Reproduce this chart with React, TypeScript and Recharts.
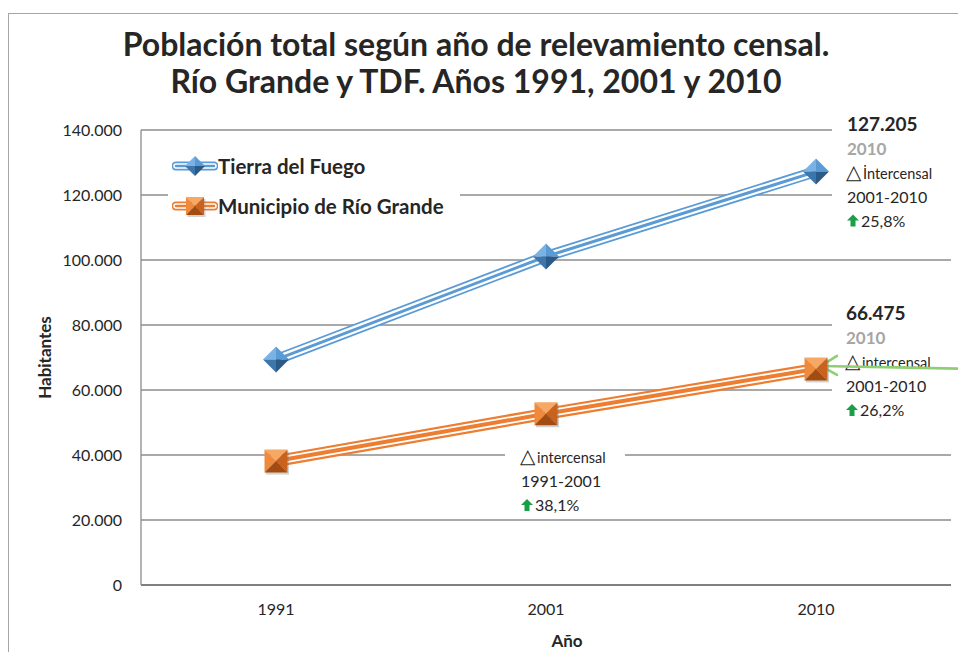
import { LineChart, Line, XAxis, YAxis, CartesianGrid, Legend, ReferenceDot, Label } from 'recharts'

// censos 1991, 2001, 2010
const years = ['1991', '2001', '2010']
const tierraDelFuego = [69369, 101079, 127205]
const rioGrande = [38136, 52681, 66475]
const yTicks = [0, 20000, 40000, 60000, 80000, 100000, 120000, 140000]

const seriesNames = ['Tierra del Fuego', 'Municipio de Río Grande']
const periodLabels = ['1991-2001', '2001-2010']
const changeTdf = '25,8%'
const changeRg2010 = '26,2%'
const changeRg2001 = '38,1%'

const BLUE = '#5b9bd5'
const ORANGE = '#ed7d31'
const GRID = '#8c8c8c'
const TEXT = '#262626'
const FONT = 'Lato, "Open Sans", sans-serif'

const data = years.map((year, i) => ({ year, tdf: tierraDelFuego[i], rg: rioGrande[i] }))

const fmt = (v: number) => String(v).replace(/\B(?=(\d{3})+(?!\d))/g, '.')

function Diamond({ cx, cy, r = 13 }: any) {
    return (
        <g>
            <polygon points={`${cx},${cy - r} ${cx},${cy} ${cx - r},${cy}`} fill="#7ab2e6" />
            <polygon points={`${cx},${cy - r} ${cx + r},${cy} ${cx},${cy}`} fill="#5a9ad5" />
            <polygon points={`${cx + r},${cy} ${cx},${cy + r} ${cx},${cy}`} fill="#2c5a86" />
            <polygon points={`${cx - r},${cy} ${cx},${cy + r} ${cx},${cy}`} fill="#3d76ab" />
        </g>
    )
}

function Pyramid({ cx, cy, r = 11.5 }: any) {
    const l = cx - r, rt = cx + r, t = cy - r, b = cy + r
    return (
        <g>
            <rect x={l + 1.5} y={t + 2} width={r * 2} height={r * 2} fill="#7f7f7f" opacity={0.35} />
            <polygon points={`${l},${t} ${rt},${t} ${cx},${cy}`} fill="#f7a864" />
            <polygon points={`${l},${t} ${cx},${cy} ${l},${b}`} fill="#ef8a3c" />
            <polygon points={`${rt},${t} ${rt},${b} ${cx},${cy}`} fill="#c9621d" />
            <polygon points={`${l},${b} ${cx},${cy} ${rt},${b}`} fill="#a24c12" />
        </g>
    )
}

function UpArrow({ x, y }: any) {
    // small green arrow, (x, y) = bottom-left
    return (
        <polygon
            points={`${x + 3.5},${y} ${x + 3.5},${y - 6} ${x},${y - 6} ${x + 6},${y - 12} ${x + 12},${y - 6} ${x + 8.5},${y - 6} ${x + 8.5},${y}`}
            fill="#1a9e48"
        />
    )
}

function Note({ x, y, lines }: any) {
    // lines: { kind, text }
    return (
        <g fontFamily={FONT}>
            {lines.map((ln: any, i: number) => {
                const ly = y + i * 24
                if (ln.kind === 'total')
                    return <text key={i} x={x} y={ly} fontSize={19} fontWeight={700} fill={TEXT}>{ln.text}</text>
                if (ln.kind === 'year')
                    return <text key={i} x={x} y={ly} fontSize={17} fontWeight={700} fill="#a6a6a6">{ln.text}</text>
                if (ln.kind === 'delta')
                    return (
                        <g key={i}>
                            <text x={x - 1} y={ly} fontSize={20} fill={TEXT} fontFamily="DejaVu Sans">△</text>
                            <text x={x + 16} y={ly} fontSize={14.5} fill={TEXT}>{ln.text}</text>
                        </g>
                    )
                if (ln.kind === 'pct')
                    return (
                        <g key={i}>
                            <UpArrow x={x} y={ly} />
                            <text x={x + 14} y={ly} fontSize={16} fill={TEXT}>{ln.text}</text>
                        </g>
                    )
                return <text key={i} x={x} y={ly} fontSize={16} fill={TEXT}>{ln.text}</text>
            })}
        </g>
    )
}

function LegendIcon({ color, marker }: any) {
    return (
        <svg width={46} height={24} style={{ display: 'block' }}>
            <line x1={4} y1={12} x2={42} y2={12} stroke={color} strokeWidth={9} strokeLinecap="round" />
            <line x1={4} y1={12} x2={42} y2={12} stroke="#fff" strokeWidth={5.5} strokeLinecap="round" />
            <line x1={4} y1={12} x2={42} y2={12} stroke={color} strokeWidth={2.5} strokeLinecap="round" />
            {marker === 'diamond' ? <Diamond cx={23} cy={12} r={10} /> : <Pyramid cx={23} cy={12} r={9} />}
        </svg>
    )
}

function LegendBox() {
    const items = [
        { name: seriesNames[0], color: BLUE, marker: 'diamond' },
        { name: seriesNames[1], color: ORANGE, marker: 'square' },
    ]
    return (
        <div style={{ background: '#fff', padding: '6px 6px 6px 4px', width: 282 }}>
            {items.map((it) => (
                <div key={it.name} style={{ display: 'flex', alignItems: 'center', height: 40 }}>
                    <LegendIcon color={it.color} marker={it.marker} />
                    <span style={{ fontFamily: FONT, fontWeight: 700, fontSize: 20.5, color: TEXT, marginLeft: 0 }}>{it.name}</span>
                </div>
            ))}
        </div>
    )
}

export default function App() {
    return (
        <div style={{ position: 'absolute', left: 0, top: 0, width: 958, height: 652, overflow: 'hidden', background: '#fff' }}>
            <style>{`body{margin:0}`}</style>
            <div style={{ position: 'absolute', left: 8, top: 13, width: 1000, height: 700, border: '1px solid #a6a6a6' }} />
            <div
                style={{
                    position: 'absolute', left: 0, top: 25, width: 952, textAlign: 'center',
                    fontFamily: FONT, fontWeight: 700, fontSize: 32, lineHeight: '37px', color: TEXT,
                }}
            >
                Población total según año de relevamiento censal.
                <br />
                Río Grande y TDF. Años 1991, 2001 y 2010
            </div>
            <div style={{ position: 'absolute', left: 0, top: 0 }}>
                <LineChart width={958} height={652} data={data} margin={{ top: 130, right: 7, bottom: 37, left: 41 }}>
                    <CartesianGrid vertical={false} stroke={GRID} strokeWidth={1.3} />
                    <XAxis
                        dataKey="year"
                        height={30}
                        padding={{ left: 135, right: 135 }}
                        axisLine={{ stroke: '#7f7f7f', strokeWidth: 2 }}
                        tickLine={false}
                        tickSize={0}
                        tickMargin={19}
                        tick={{ fill: TEXT, fontSize: 16, fontFamily: FONT }}
                    >
                        <Label value="Año" position="bottom" offset={20} dx={21} fill={TEXT} fontSize={17} fontWeight={700} fontFamily={FONT} />
                    </XAxis>
                    <YAxis
                        width={100}
                        domain={[0, 140000]}
                        ticks={yTicks}
                        tickFormatter={fmt}
                        axisLine={{ stroke: GRID, strokeWidth: 1.3 }}
                        tickLine={false}
                        tickSize={0}
                        tickMargin={19}
                        tick={{ fill: TEXT, fontSize: 16, fontFamily: FONT }}
                    >
                        <Label value="Habitantes" angle={-90} position="insideLeft" offset={4} fill={TEXT} fontSize={17} fontWeight={700} fontFamily={FONT} style={{ textAnchor: 'middle' }} />
                    </YAxis>
                    <Legend verticalAlign="middle" align="center" content={<LegendBox />} wrapperStyle={{ left: 168, top: 140, width: 'auto' }} />

                    <Line dataKey="tdf" stroke={BLUE} strokeWidth={11} dot={false} legendType="none" isAnimationActive={false} />
                    <Line dataKey="tdf" stroke="#fff" strokeWidth={7.5} dot={false} legendType="none" isAnimationActive={false} />
                    <Line
                        dataKey="tdf"
                        name={seriesNames[0]}
                        stroke={BLUE}
                        strokeWidth={3}
                        dot={(p: any) => <Diamond key={p.index} cx={p.cx} cy={p.cy} />}
                        isAnimationActive={false}
                    />
                    <Line dataKey="rg" stroke={ORANGE} strokeWidth={12} dot={false} legendType="none" isAnimationActive={false} />
                    <Line dataKey="rg" stroke="#fff" strokeWidth={7.5} dot={false} legendType="none" isAnimationActive={false} />
                    <Line
                        dataKey="rg"
                        name={seriesNames[1]}
                        stroke={ORANGE}
                        strokeWidth={4}
                        dot={(p: any) => <Pyramid key={p.index} cx={p.cx} cy={p.cy} />}
                        isAnimationActive={false}
                    />

                    <ReferenceDot
                        x="2010"
                        y={tierraDelFuego[2]}
                        ifOverflow="visible"
                        shape={(p: any) => (
                            <g>
                                <rect x={p.cx + 16} y={p.cy - 60} width={140} height={122} fill="#fff" />
                                <Note
                                    x={p.cx + 31}
                                    y={p.cy - 41}
                                    lines={[
                                        { kind: 'total', text: fmt(tierraDelFuego[2]) },
                                        { kind: 'year', text: years[2] },
                                        { kind: 'delta', text: 'İntercensal' },
                                        { kind: 'plain', text: periodLabels[1] },
                                        { kind: 'pct', text: changeTdf },
                                    ]}
                                />
                            </g>
                        )}
                    />
                    <ReferenceDot
                        x="2010"
                        y={rioGrande[2]}
                        ifOverflow="visible"
                        shape={(p: any) => (
                            <g>
                                <rect x={p.cx + 16} y={p.cy - 70} width={140} height={122} fill="#fff" />
                                <Note
                                    x={p.cx + 30}
                                    y={p.cy - 49}
                                    lines={[
                                        { kind: 'total', text: fmt(rioGrande[2]) },
                                        { kind: 'year', text: years[2] },
                                        { kind: 'delta', text: 'intercensal' },
                                        { kind: 'plain', text: periodLabels[1] },
                                        { kind: 'pct', text: changeRg2010 },
                                    ]}
                                />
                                <g stroke="#8fcf72" strokeWidth={2.6} fill="none" strokeLinecap="round">
                                    <line x1={p.cx + 5} y1={p.cy - 3} x2={p.cx + 160} y2={p.cy} />
                                    <polyline points={`${p.cx + 21},${p.cy - 13} ${p.cx + 5},${p.cy - 3} ${p.cx + 21},${p.cy + 6}`} />
                                </g>
                            </g>
                        )}
                    />
                    <ReferenceDot
                        x="2001"
                        y={40000}
                        ifOverflow="visible"
                        shape={(p: any) => (
                            <g>
                                <rect x={p.cx - 41} y={p.cy - 13} width={120} height={72} fill="#fff" />
                                <Note
                                    x={p.cx - 25}
                                    y={p.cy + 8}
                                    lines={[
                                        { kind: 'delta', text: 'intercensal' },
                                        { kind: 'plain', text: periodLabels[0] },
                                        { kind: 'pct', text: changeRg2001 },
                                    ]}
                                />
                            </g>
                        )}
                    />
                </LineChart>
            </div>
        </div>
    )
}
